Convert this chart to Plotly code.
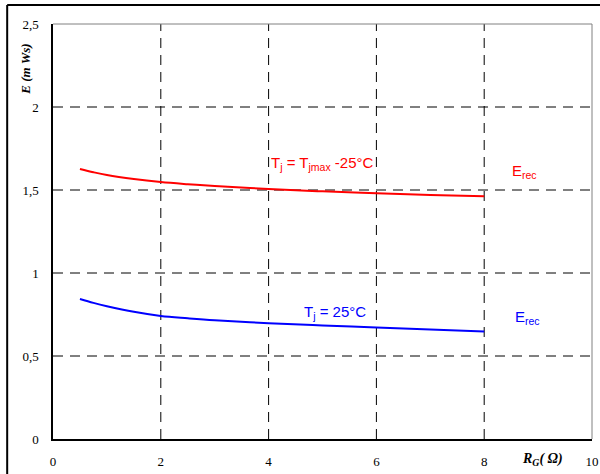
import plotly.graph_objects as go

# Gate resistance (Ohm) and reverse-recovery energy (mWs)
rg = [0.5, 0.75, 1, 1.5, 2, 2.5, 3, 4, 5, 6, 7, 8]
erec_hot = [1.627, 1.607, 1.59, 1.566, 1.548, 1.535, 1.524, 1.506, 1.492, 1.48, 1.47, 1.462]
erec_25 = [0.843, 0.82, 0.80, 0.766, 0.741, 0.727, 0.715, 0.698, 0.684, 0.672, 0.66, 0.648]

x_ticks = [0, 2, 4, 6, 8, 10]
x_ticktext = ["0", "2", "4", "6", "8", "10"]
y_ticks = [0, 0.5, 1, 1.5, 2, 2.5]
y_ticktext = ["0", "0,5", "1", "1,5", "2", "2,5"]
x_grid = [2, 4, 6, 8]
y_grid = [0.5, 1, 1.5, 2]

serif = "Times New Roman"
sans = "Liberation Sans"
grid_dash = "10px,7px"

fig = go.Figure()
fig.add_trace(go.Scatter(x=rg, y=erec_hot, mode="lines",
                         line=dict(color="#ff0000", width=2, shape="spline", smoothing=1.0),
                         showlegend=False))
fig.add_trace(go.Scatter(x=rg, y=erec_25, mode="lines",
                         line=dict(color="#0000ff", width=2, shape="spline", smoothing=1.0),
                         showlegend=False))

shapes = []
for gx in x_grid:
    shapes.append(dict(type="line", xref="x", yref="y domain", x0=gx, x1=gx, y0=0, y1=1,
                       line=dict(color="black", width=1, dash=grid_dash), layer="below"))
for gy in y_grid:
    shapes.append(dict(type="line", xref="x domain", yref="y", x0=0, x1=1, y0=gy, y1=gy,
                       line=dict(color="black", width=1, dash=grid_dash), layer="below"))
# top and right plot border in grey
shapes.append(dict(type="line", xref="x domain", yref="y domain", x0=0, x1=1, y0=1, y1=1,
                   line=dict(color="#808080", width=1)))
shapes.append(dict(type="line", xref="x domain", yref="y domain", x0=1, x1=1, y0=0, y1=1,
                   line=dict(color="#808080", width=1)))
# outer frame
shapes.append(dict(type="line", xref="paper", yref="paper", x0=-0.085, x1=-0.085, y0=1.046, y1=-0.1,
                   line=dict(color="black", width=2)))
shapes.append(dict(type="line", xref="paper", yref="paper", x0=-0.085, x1=1.1, y0=1.046, y1=1.046,
                   line=dict(color="black", width=2)))

annotations = [
    dict(text="T<sub>j</sub> = T<sub>jmax</sub> -25°C", x=5.0, y=1.66, xref="x", yref="y",
         showarrow=False, font=dict(family=sans, size=15, color="#ff0000")),
    dict(text="E<sub>rec</sub>", x=8.74, y=1.61, xref="x", yref="y",
         showarrow=False, font=dict(family=sans, size=15, color="#ff0000")),
    dict(text="T<sub>j</sub> = 25°C", x=5.23, y=0.765, xref="x", yref="y",
         showarrow=False, font=dict(family=sans, size=15, color="#0000ff")),
    dict(text="E<sub>rec</sub>", x=8.8, y=0.73, xref="x", yref="y",
         showarrow=False, font=dict(family=sans, size=15, color="#0000ff")),
    dict(text="<b><i>E (m Ws)</i></b>", textangle=-90, x=-0.05, y=0.89, xref="paper", yref="paper",
         xanchor="center", yanchor="middle",
         showarrow=False, font=dict(family=serif, size=13, color="black")),
    dict(text="<b><i>R</i></b><sub><b><i>G</i></b></sub><b><i>( Ω)</i></b>", x=0.908, y=-0.049,
         xref="paper", yref="paper", xanchor="center", yanchor="middle",
         showarrow=False, font=dict(family=serif, size=14, color="black")),
    dict(text="E<sub>rec</sub> = f (R<sub>g</sub>)", x=-0.07, y=1.052, xref="paper", yref="paper",
         xanchor="left", yanchor="bottom", showarrow=False, font=dict(family=serif, size=14, color="black")),
]

fig.update_layout(
    width=600, height=474,
    margin=dict(l=53, r=8, t=24, b=35),
    paper_bgcolor="white", plot_bgcolor="white",
    shapes=shapes, annotations=annotations,
    xaxis=dict(range=[0, 10], tickvals=x_ticks, ticktext=x_ticktext, showgrid=False, zeroline=False,
               showline=True, linecolor="black", linewidth=1.5, ticks="", ticklabelstandoff=10,
               automargin=False, tickfont=dict(family=serif, size=13, color="black")),
    yaxis=dict(range=[0, 2.5], tickvals=y_ticks, ticktext=y_ticktext, showgrid=False, zeroline=False,
               showline=True, linecolor="black", linewidth=1.5, ticks="", ticklabelstandoff=10,
               automargin=False, tickfont=dict(family=serif, size=13, color="black")),
)

fig.write_html("out.html")
